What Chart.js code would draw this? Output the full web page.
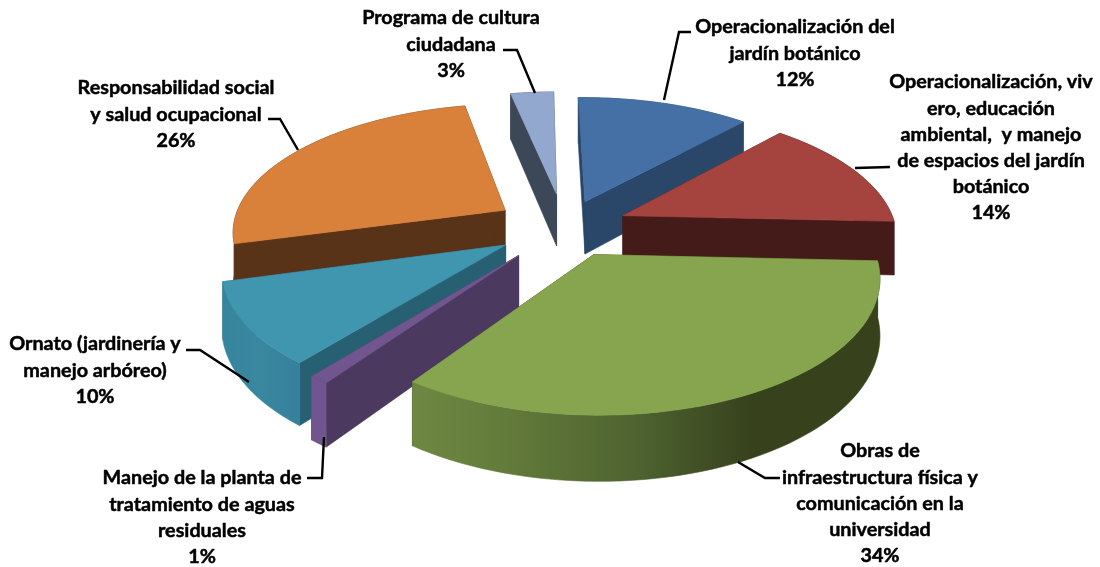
<!DOCTYPE html>
<html><head><meta charset="utf-8">
<style>html,body{margin:0;padding:0;background:#fff}canvas{display:block}</style>
<script src="https://cdn.jsdelivr.net/npm/chart.js@4"></script>
</head><body>
<canvas id="c" width="1100" height="567"></canvas>
<script>
// ---- data ----
const categories = [
  "Operacionalización del\njardín botánico",
  "Operacionalización, viv\nero, educación\nambiental,  y manejo\nde espacios del jardín\nbotánico",
  "Obras de\ninfraestructura física y\ncomunicación en la\nuniversidad",
  "Manejo de la planta de\ntratamiento de aguas\nresiduales",
  "Ornato (jardinería y\nmanejo arbóreo)",
  "Responsabilidad social\ny salud ocupacional",
  "Programa de cultura\nciudadana"
];
const values = [12, 14, 34, 1, 10, 26, 3];
// ---- styles ----
const explode = [60, 64, 64, 74, 69, 71, 74];
const topColors = ["#4470A6","#A5433F","#87A44E","#70558E","#3F96AE","#D9813B","#92A8CF"];
const cutColors = ["#2A4668","#451B19","#37421D","#4B395F","#266072","#583318","#3C4758"];
const wallStops = [
  [[0,"#2A4668"],[1,"#2A4668"]],
  [[0,"#451B19"],[1,"#451B19"]],
  [[0,"#6E8742"],[0.16,"#667E3C"],[0.48,"#4E6330"],[0.72,"#37421D"],[1,"#37421D"]],
  [[0,"#70558E"],[1,"#70558E"]],
  [[0,"#37849E"],[0.5,"#3A87A0"],[1,"#35809A"]],
  [[0,"#583318"],[1,"#583318"]],
  [[0,"#3C4758"],[1,"#3C4758"]]
];
const drawOrder = [6, 0, 5, 1, 4, 3, 2];
const labelCenters = [[795,27],[991,82],[880,451],[202,478],[95,344],[176,88],[451,18]];
const leaders = [
  [[691,32],[679,32],[664,100]],
  [[890,167],[855,168]],
  [[780,478],[765,478],[738,462]],
  [[307,478],[322,478],[324,437]],
  [[186,350],[200,350],[249,382]],
  [[268,119],[280,119],[298,150]],
  [[503,50],[517,50],[535,93]]
];
const view = {radius:273, tilt:0.465, dist:1800, depth:54, lineHeight:26.2,
  font:'bold 19.8px Lato, "Open Sans", sans-serif'};

const pie3d = {
  id:'pie3d',
  beforeDatasetsDraw(chart){
    const ctx = chart.ctx;
    const arcs = chart.getDatasetMeta(0).data;
    const project = (cx,cy,u,v,z) => {
      const k = view.dist/(view.dist - v);
      return [cx + u*k, cy + (v*view.tilt + z)*k];
    };
    const fill = (pts,style) => {
      ctx.beginPath();
      pts.forEach((p,i)=> i ? ctx.lineTo(p[0],p[1]) : ctx.moveTo(p[0],p[1]));
      ctx.closePath();
      ctx.fillStyle = style; ctx.fill();
      ctx.strokeStyle = style; ctx.lineWidth = 0.6; ctx.stroke();
    };
    drawOrder.forEach(i=>{
      const el = arcs[i];
      const s = view.radius/el.outerRadius;
      const a0 = el.startAngle, a1 = el.endAngle, mid = (a0+a1)/2;
      const off = el.options.offset;
      const ou = Math.cos(mid)*off, ov = Math.sin(mid)*off;
      const R = el.outerRadius*s;
      const n = 60, top = [], bot = [];
      for(let j=0;j<=n;j++){
        const a = a0 + (a1-a0)*j/n;
        const u = ou + Math.cos(a)*R, v = ov + Math.sin(a)*R;
        top.push(project(el.x,el.y,u,v,0));
        bot.push(project(el.x,el.y,u,v,view.depth));
      }
      const at = project(el.x,el.y,ou,ov,0), ab = project(el.x,el.y,ou,ov,view.depth);
      // cut faces
      fill([at,top[0],bot[0],ab],cutColors[i]);
      fill([at,top[n],bot[n],ab],cutColors[i]);
      // outer wall
      const wall = top.concat(bot.slice().reverse());
      const xs = wall.map(p=>p[0]);
      const g = ctx.createLinearGradient(Math.min(...xs),0,Math.max(...xs),0);
      wallStops[i].forEach(st=>g.addColorStop(st[0],st[1]));
      fill(wall,g);
      // top face
      fill([at].concat(top),el.options.backgroundColor);
    });
    // leader lines
    ctx.strokeStyle='#000'; ctx.lineWidth=2.4; ctx.lineJoin='miter';
    leaders.forEach(l=>{
      ctx.beginPath();
      l.forEach((p,i)=> i ? ctx.lineTo(p[0],p[1]) : ctx.moveTo(p[0],p[1]));
      ctx.stroke();
    });
    // labels
    ctx.fillStyle='#000'; ctx.font=view.font; ctx.textAlign='center'; ctx.textBaseline='middle';
    ctx.lineWidth=0.5; ctx.lineJoin='round';
    categories.forEach((c,i)=>{
      const lines = c.split("\n").concat(values[i]+"%");
      lines.forEach((t,j)=>{
        const x=labelCenters[i][0], y=labelCenters[i][1]+j*view.lineHeight;
        ctx.fillText(t,x,y); ctx.strokeText(t,x,y);
      });
    });
    return false;
  }
};

new Chart(document.getElementById('c'),{
  type:'pie',
  data:{labels:categories,datasets:[{data:values,backgroundColor:topColors,offset:explode,borderWidth:0}]},
  options:{
    responsive:false,animation:false,rotation:-1,
    layout:{padding:{left:29,top:0,right:0,bottom:113}},
    plugins:{legend:{display:false},tooltip:{enabled:false}}
  },
  plugins:[pie3d]
});
</script>
</body></html>
